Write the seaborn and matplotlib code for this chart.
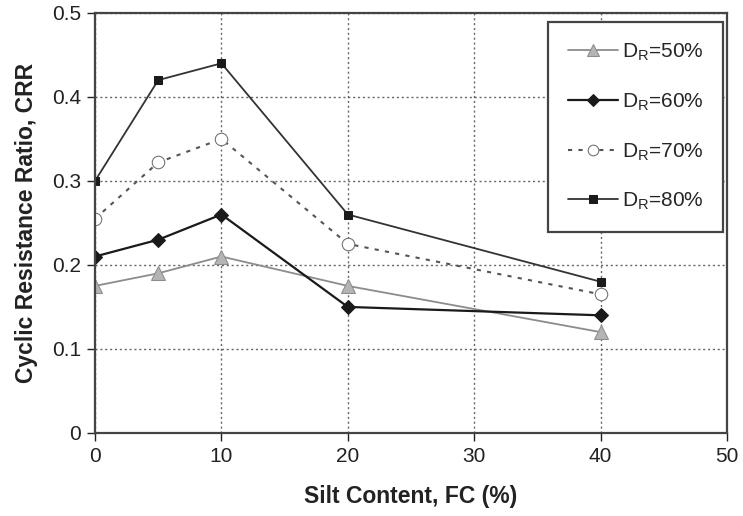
import matplotlib
matplotlib.use("Agg")
import matplotlib.pyplot as plt
import seaborn as sns
import pandas as pd

# Silt content (%) and cyclic resistance ratio for each relative density
fines = [0, 5, 10, 20, 40]
crr_50 = [0.175, 0.19, 0.21, 0.175, 0.12]
crr_60 = [0.21, 0.23, 0.26, 0.15, 0.14]
crr_70 = [0.255, 0.322, 0.35, 0.225, 0.165]
crr_80 = [0.30, 0.42, 0.44, 0.26, 0.18]
series_labels = ["D$_\\mathregular{R}$=50%", "D$_\\mathregular{R}$=60%",
                 "D$_\\mathregular{R}$=70%", "D$_\\mathregular{R}$=80%"]

sns.set_theme(style="white")
plt.rcParams["font.family"] = ["Liberation Sans", "DejaVu Sans"]

fig = plt.figure(figsize=(7.43, 5.16), dpi=100)
ax = fig.add_axes([0.1279, 0.161, 0.8506, 0.814])

styles = [
    dict(color="#8c8c8c", marker="^", markersize=10, markerfacecolor="#b4b4b4",
         markeredgecolor="#8c8c8c", linestyle="-", linewidth=1.3),
    dict(color="#1a1a1a", marker="D", markersize=7, markerfacecolor="#1a1a1a",
         markeredgecolor="#1a1a1a", linestyle="-", linewidth=1.6),
    dict(color="#555555", marker="o", markersize=9, markerfacecolor="white",
         markeredgecolor="#6e6e6e", linestyle=(0, (2, 3)), linewidth=1.5),
    dict(color="#333333", marker="s", markersize=6, markerfacecolor="#1a1a1a",
         markeredgecolor="#1a1a1a", linestyle="-", linewidth=1.3),
]

for vals, lab, st in zip([crr_50, crr_60, crr_70, crr_80], series_labels, styles):
    df = pd.DataFrame({"FC": fines, "CRR": vals})
    sns.lineplot(data=df, x="FC", y="CRR", ax=ax, label=lab, **st)

ax.set_xlim(0, 50)
ax.set_ylim(0, 0.5)
ax.set_xticks([0, 10, 20, 30, 40, 50])
ax.set_yticks([0, 0.1, 0.2, 0.3, 0.4, 0.5])
ax.set_yticklabels(["0", "0.1", "0.2", "0.3", "0.4", "0.5"])
ax.grid(True, color="#666666", linestyle=(0, (1.5, 2)), linewidth=1.0)
for s in ax.spines.values():
    s.set_color("#444444")
    s.set_linewidth(1.6)
ax.tick_params(axis="both", which="major", labelsize=15, colors="#222222",
               length=6, width=1, direction="out", pad=4,
               bottom=True, left=True)
ax.set_xlabel("Silt Content, FC (%)", fontsize=16.5, fontweight="bold",
              color="#222222", labelpad=14)
ax.set_ylabel("Cyclic Resistance Ratio, CRR", fontsize=16.5, fontweight="bold",
              color="#222222", labelpad=10)

leg = ax.legend(loc="upper right", bbox_to_anchor=(0.994, 0.979), fontsize=15,
                handlelength=2.4, labelspacing=1.35, borderpad=0.95,
                handletextpad=0.2, borderaxespad=0, fancybox=False,
                framealpha=1, edgecolor="#444444", markerscale=0.85)
leg.get_frame().set_linewidth(1.6)

fig.savefig("out.png", dpi=100)
